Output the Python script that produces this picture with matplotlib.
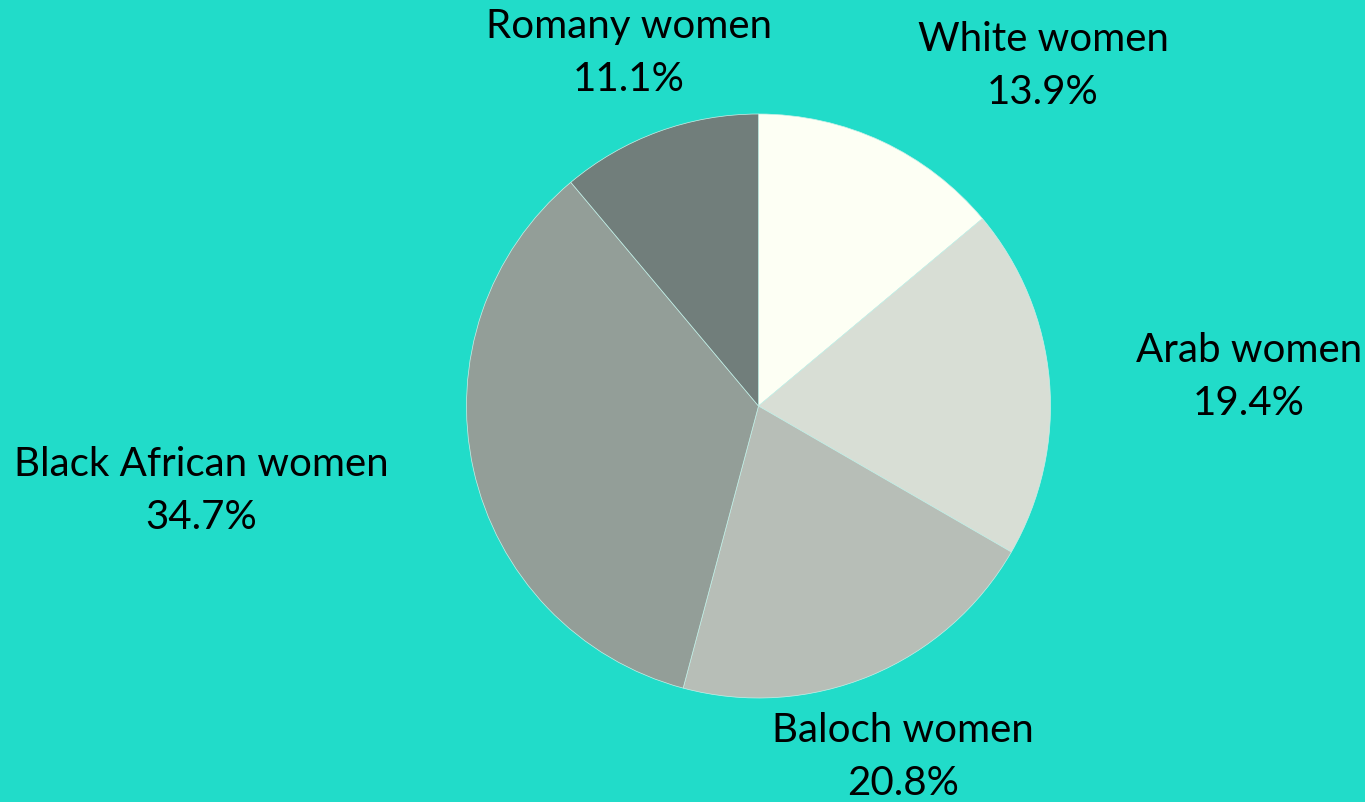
import matplotlib
matplotlib.use('Agg')
import matplotlib.pyplot as plt

# data
labels = ['White women', 'Arab women', 'Baloch women', 'Black African women', 'Romany women']
shares = [13.9, 19.4, 20.8, 34.7, 11.1]
colors = ['#FDFFF4', '#D8DED5', '#B7BEB7', '#939E98', '#717E7B']

# label centres in pixel coords (x, y from top)
label_pos = [(1043, 66), (1249, 377), (903, 757), (201, 491), (629, 53)]

bg = '#21DCC9'
W, H = 1365, 803

fig = plt.figure(figsize=(W / 100, H / 100), dpi=100, facecolor=bg)
ax = fig.add_axes([0, 0, 1, 1])
ax.set_facecolor(bg)

cx, cy, r = 758.5, H - 407, 292
ax.pie(shares, colors=colors, startangle=90, counterclock=False,
       center=(cx, cy), radius=r,
       wedgeprops=dict(edgecolor='#C8F0E8', linewidth=0.5))

for lab, val, (x, y) in zip(labels, shares, label_pos):
    ax.text(x, H - y, f'{lab}\n{val:.1f}%', ha='center', va='center',
            multialignment='center', fontsize=29, family='Lato',
            color='black', linespacing=1.55)

ax.set_xlim(0, W)
ax.set_ylim(0, H)
ax.set_aspect('auto')
ax.axis('off')

fig.savefig('out.png', dpi=100, facecolor=bg)
